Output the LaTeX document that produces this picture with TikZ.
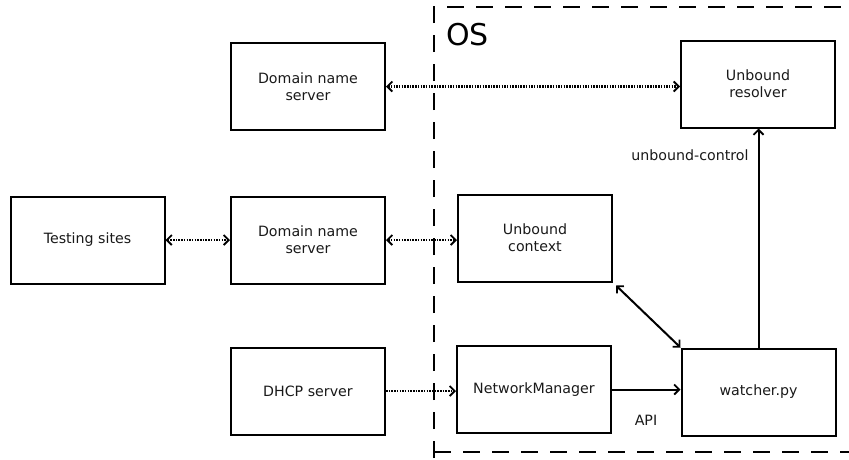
\documentclass[tikz,border=0pt]{standalone}
\usepackage{fontspec}
\setmainfont{DejaVu Sans}
\usetikzlibrary{arrows.meta}
\begin{document}
\begin{tikzpicture}[x=1pt,y=-1pt,
  box/.style={draw,line width=2pt,minimum width=154pt,minimum height=87pt,align=center,font=\fontsize{14.2}{17}\selectfont,text=black!90,inner sep=0pt},
  conn/.style={line width=2pt,{Straight Barb[length=5pt,width=10pt,line width=1.8pt]}-{Straight Barb[length=5pt,width=10pt,line width=1.8pt]}},
  oneway/.style={line width=2pt,-{Straight Barb[length=5pt,width=10pt,line width=1.8pt]}},
  dots/.style={line width=2.4pt,dash pattern=on 1.5pt off 1.2pt},
  lbl/.style={font=\fontsize{14.2}{17}\selectfont,text=black!90,inner sep=0pt}]
\useasboundingbox (0,0) rectangle (849,459);
\draw[line width=2.2pt,dash pattern=on 17pt off 12pt] (434,458) -- (434,7) -- (860,7);
\draw[line width=2.2pt,dash pattern=on 17pt off 12pt] (434,452) -- (860,452);
\node[font=\fontsize{30}{32}\selectfont,inner sep=0pt,anchor=west] (os) at (446,35) {OS};
\node[box] (ts) at (87.5,240) {Testing sites};
\node[box] (dns1) at (308,86.5) {Domain name\\server};
\node[box] (dns2) at (308,240) {Domain name\\server};
\node[box] (dhcp) at (308,391) {DHCP server};
\node[box] (uc) at (535,238) {Unbound\\context};
\node[box] (nm) at (534,389.5) {NetworkManager};
\node[box] (ur) at (758,84) {Unbound\\resolver};
\node[box] (w) at (758.5,392) {watcher.py};
\draw[conn,dots] (dns1.east) -- (ur.west |- dns1.east);
\draw[conn,dots] (ts.east) -- (dns2.west);
\draw[conn,dots] (dns2.east) -- (uc.west |- dns2.east);
\draw[oneway,dots] (dhcp.east) -- (nm.west |- dhcp.east);
\draw[oneway] (nm.east) -- (w.west |- nm.east);
\draw[conn] ([shift={(3,3)}]uc.south east) -- (w.north west);
\draw[oneway] (w.north) -- (w.north |- ur.south);
\node[lbl] (api) at (646,420) {API};
\node[lbl] (ucl) at (690,155) {unbound-control};
\end{tikzpicture}
\end{document}
